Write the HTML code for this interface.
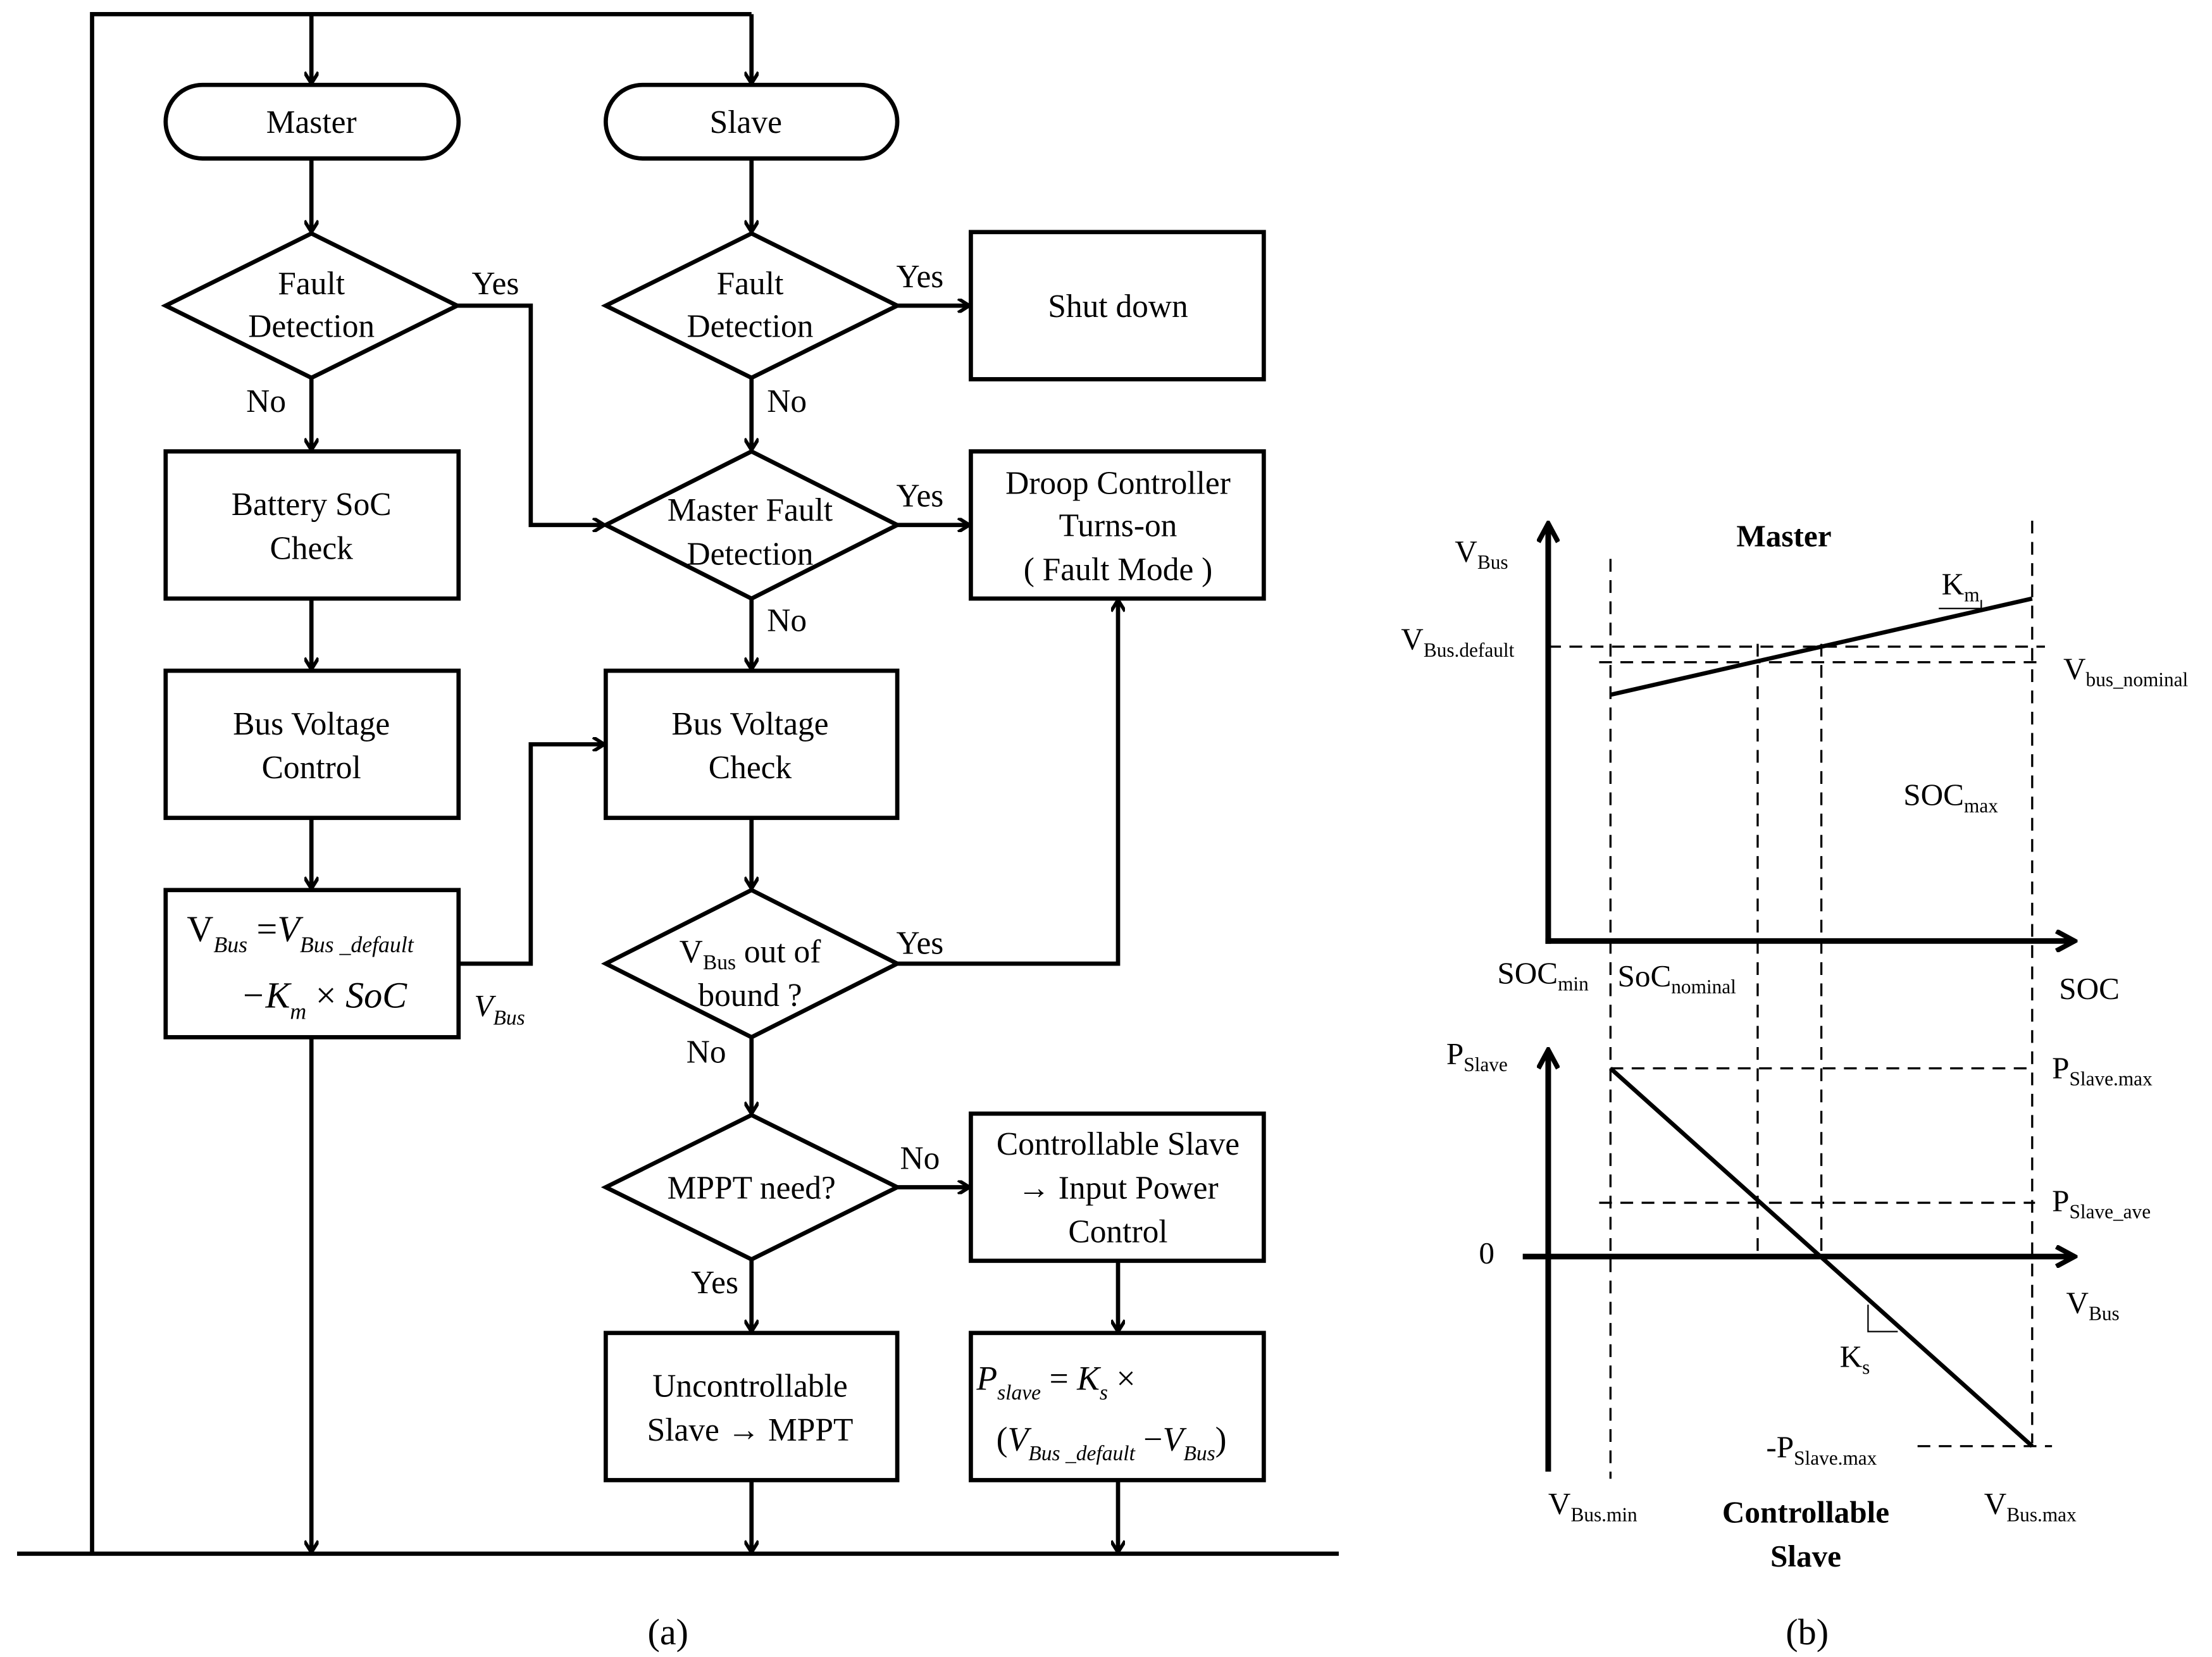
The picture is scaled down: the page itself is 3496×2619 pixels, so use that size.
<!DOCTYPE html>
<html><head><style>
html,body{margin:0;padding:0;background:#fff}
svg{display:block}
text{font-family:"Liberation Serif",serif;fill:#000}
</style></head><body>
<svg width="3496" height="2619" viewBox="0 0 1563 1171" xmlns="http://www.w3.org/2000/svg">
<defs>
<marker id="a" markerWidth="10" markerHeight="10" refX="9" refY="5" orient="auto" markerUnits="userSpaceOnUse" viewBox="0 0 10 10">
<path d="M1,0 L9,5 L1,10" fill="none" stroke="#000" stroke-width="2.5"/>
</marker>
<marker id="b" markerWidth="16" markerHeight="16" refX="14" refY="8" orient="auto" markerUnits="userSpaceOnUse" viewBox="0 0 16 16">
<path d="M1,1 L14,8 L1,15" fill="none" stroke="#000" stroke-width="3.5"/>
</marker>
</defs>
<g fill="none" stroke="#000" stroke-width="3">
<!-- frame -->
<polyline points="65,1098 65,10 531,10"/>
<line x1="220" y1="10" x2="220" y2="59" marker-end="url(#a)"/>
<line x1="531" y1="10" x2="531" y2="59" marker-end="url(#a)"/>
<line x1="12" y1="1098" x2="946" y2="1098"/>
<!-- master column -->
<rect x="117" y="60" width="207" height="52" rx="26"/>
<line x1="220" y1="112" x2="220" y2="164" marker-end="url(#a)"/>
<polygon points="117,216 220,165 323,216 220,267"/>
<polyline points="323,216 375,216 375,371 427,371" marker-end="url(#a)"/>
<line x1="220" y1="267" x2="220" y2="318" marker-end="url(#a)"/>
<rect x="117" y="319" width="207" height="104"/>
<line x1="220" y1="423" x2="220" y2="473" marker-end="url(#a)"/>
<rect x="117" y="474" width="207" height="104"/>
<line x1="220" y1="578" x2="220" y2="628" marker-end="url(#a)"/>
<rect x="117" y="629" width="207" height="104"/>
<line x1="220" y1="733" x2="220" y2="1097" marker-end="url(#a)"/>
<polyline points="324,681 375,681 375,526 427,526" marker-end="url(#a)"/>
<!-- slave column -->
<rect x="428" y="60" width="206" height="52" rx="26"/>
<line x1="531" y1="112" x2="531" y2="164" marker-end="url(#a)"/>
<polygon points="428,216 531,165 634,216 531,267"/>
<line x1="634" y1="216" x2="685" y2="216" marker-end="url(#a)"/>
<rect x="686" y="164" width="207" height="104"/>
<line x1="531" y1="267" x2="531" y2="318" marker-end="url(#a)"/>
<polygon points="428,371 531,319 634,371 531,423"/>
<line x1="634" y1="371" x2="685" y2="371" marker-end="url(#a)"/>
<rect x="686" y="319" width="207" height="104"/>
<line x1="531" y1="423" x2="531" y2="473" marker-end="url(#a)"/>
<rect x="428" y="474" width="206" height="104"/>
<line x1="531" y1="578" x2="531" y2="628" marker-end="url(#a)"/>
<polygon points="428,681 531,629 634,681 531,733"/>
<polyline points="634,681 790,681 790,424" marker-end="url(#a)"/>
<line x1="531" y1="733" x2="531" y2="787" marker-end="url(#a)"/>
<polygon points="428,839 531,788 634,839 531,890"/>
<line x1="634" y1="839" x2="685" y2="839" marker-end="url(#a)"/>
<rect x="686" y="787" width="207" height="104"/>
<line x1="531" y1="890" x2="531" y2="941" marker-end="url(#a)"/>
<rect x="428" y="942" width="206" height="104"/>
<line x1="790" y1="891" x2="790" y2="941" marker-end="url(#a)"/>
<rect x="686" y="942" width="207" height="104"/>
<line x1="531" y1="1046" x2="531" y2="1097" marker-end="url(#a)"/>
<line x1="790" y1="1046" x2="790" y2="1097" marker-end="url(#a)"/>
</g>
<g font-size="23" text-anchor="middle">
<text x="220" y="94">Master</text>
<text x="527" y="94">Slave</text>
<text x="220" y="208">Fault</text><text x="220" y="238">Detection</text>
<text x="530" y="208">Fault</text><text x="530" y="238">Detection</text>
<text x="350" y="208">Yes</text><text x="188" y="291">No</text>
<text x="650" y="203">Yes</text><text x="556" y="291">No</text>
<text x="790" y="224">Shut down</text>
<text x="220" y="364">Battery SoC</text><text x="220" y="395">Check</text>
<text x="530" y="368">Master Fault</text><text x="530" y="399">Detection</text>
<text x="650" y="358">Yes</text><text x="556" y="446">No</text>
<text x="790" y="349">Droop Controller</text><text x="790" y="379">Turns-on</text><text x="790" y="410">( Fault Mode )</text>
<text x="220" y="519">Bus Voltage</text><text x="220" y="550">Control</text>
<text x="530" y="519">Bus Voltage</text><text x="530" y="550">Check</text>
<text x="530" y="680">V<tspan font-size="15" dy="5">Bus</tspan><tspan dy="-5"> out of</tspan></text>
<text x="530" y="711">bound ?</text>
<text x="650" y="674">Yes</text><text x="499" y="751">No</text>
<text x="531" y="847">MPPT need?</text>
<text x="650" y="826">No</text><text x="505" y="914">Yes</text>
<text x="790" y="816">Controllable Slave</text><text x="790" y="847">→ Input Power</text><text x="790" y="878">Control</text>
<text x="530" y="987">Uncontrollable</text><text x="530" y="1018">Slave → MPPT</text>
<text x="472" y="1162" font-size="26">(a)</text>
<text x="1277" y="1162" font-size="26">(b)</text>
</g>
<!-- formulas -->
<g font-size="26">
<text x="132" y="665">V<tspan font-style="italic" font-size="16" dy="8">Bus</tspan><tspan dy="-8"> =</tspan><tspan font-style="italic">V</tspan><tspan font-style="italic" font-size="16" dy="8">Bus _default</tspan></text>
<text x="170" y="712" font-style="italic">−K<tspan font-size="16" dy="8">m</tspan><tspan dy="-8" font-style="normal"> × </tspan>SoC</text>
<text x="335" y="718" font-style="italic" font-size="22">V<tspan font-size="15" dy="6">Bus</tspan></text>
<text x="690" y="982" font-style="italic" font-size="24">P<tspan font-size="15" dy="7">slave</tspan><tspan dy="-7" font-style="normal">  =   </tspan>K<tspan font-size="15" dy="7">s</tspan><tspan dy="-7" font-style="normal"> ×</tspan></text>
<text x="704" y="1025" font-style="italic" font-size="24"><tspan font-style="normal">(</tspan>V<tspan font-size="15" dy="7">Bus _default</tspan><tspan dy="-7" font-style="normal"> −</tspan>V<tspan font-size="15" dy="7">Bus</tspan><tspan dy="-7" font-style="normal">)</tspan></text>
</g>
<!-- chart b -->
<g fill="none" stroke="#000">
<line x1="1094" y1="667" x2="1094" y2="370" stroke-width="4" marker-end="url(#b)"/>
<line x1="1092" y1="665" x2="1466" y2="665" stroke-width="4" marker-end="url(#b)"/>
<line x1="1094" y1="1040" x2="1094" y2="742" stroke-width="4" marker-end="url(#b)"/>
<line x1="1076" y1="888" x2="1466" y2="888" stroke-width="4" marker-end="url(#b)"/>
<g stroke-width="1.5" stroke-dasharray="9,6">
<line x1="1138" y1="395" x2="1138" y2="1045"/>
<line x1="1436" y1="368" x2="1436" y2="1020"/>
<line x1="1242" y1="455" x2="1242" y2="890"/>
<line x1="1287" y1="455" x2="1287" y2="890"/>
<line x1="1094" y1="457" x2="1445" y2="457"/>
<line x1="1130" y1="468" x2="1445" y2="468"/>
<line x1="1138" y1="755" x2="1438" y2="755"/>
<line x1="1130" y1="850" x2="1438" y2="850"/>
<line x1="1355" y1="1022" x2="1450" y2="1022"/>
</g>
<line x1="1138" y1="491" x2="1436" y2="423" stroke-width="3"/>
<line x1="1138" y1="755" x2="1436" y2="1022" stroke-width="3"/>
<polyline points="1370,430 1400,430 1400,424" stroke-width="1"/>
<polyline points="1320,922 1320,941 1341,941" stroke-width="1"/>
</g>
<g font-size="22">
<text x="1028" y="397">V<tspan font-size="14" dy="5">Bus</tspan></text>
<text x="1227" y="386" font-weight="bold">Master</text>
<text x="1372" y="420">K<tspan font-size="14" dy="5">m</tspan></text>
<text x="990" y="459">V<tspan font-size="14" dy="5">Bus.default</tspan></text>
<text x="1458" y="480">V<tspan font-size="14" dy="5">bus_nominal</tspan></text>
<text x="1345" y="569">SOC<tspan font-size="14" dy="5">max</tspan></text>
<text x="1058" y="695">SOC<tspan font-size="14" dy="5">min</tspan></text>
<text x="1143" y="697">SoC<tspan font-size="14" dy="5">nominal</tspan></text>
<text x="1455" y="706">SOC</text>
<text x="1022" y="752">P<tspan font-size="14" dy="5">Slave</tspan></text>
<text x="1450" y="762">P<tspan font-size="14" dy="5">Slave.max</tspan></text>
<text x="1450" y="856">P<tspan font-size="14" dy="5">Slave_ave</tspan></text>
<text x="1045" y="893">0</text>
<text x="1460" y="928">V<tspan font-size="14" dy="5">Bus</tspan></text>
<text x="1300" y="966">K<tspan font-size="14" dy="5">s</tspan></text>
<text x="1248" y="1030">-P<tspan font-size="14" dy="5">Slave.max</tspan></text>
<text x="1094" y="1070">V<tspan font-size="14" dy="5">Bus.min</tspan></text>
<text x="1402" y="1070">V<tspan font-size="14" dy="5">Bus.max</tspan></text>
<text x="1276" y="1076" font-weight="bold" text-anchor="middle">Controllable</text>
<text x="1276" y="1107" font-weight="bold" text-anchor="middle">Slave</text>
</g>
</svg>
</body></html>
